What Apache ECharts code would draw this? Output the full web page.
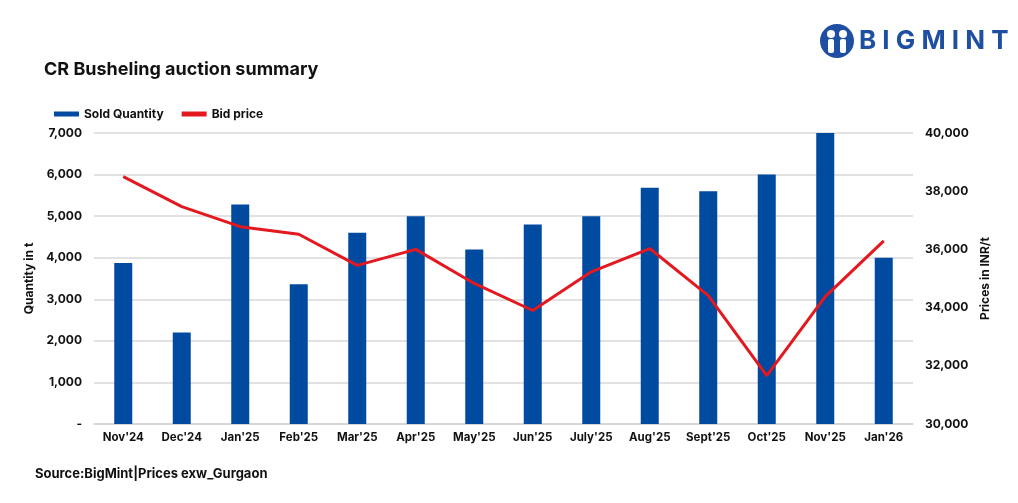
<!DOCTYPE html>
<html>
<head>
<meta charset="utf-8">
<script src="https://cdn.jsdelivr.net/npm/echarts@6/dist/echarts.min.js"></script>
<style>html,body{margin:0;padding:0;background:#fff}#c{width:1018px;height:503px}</style>
</head>
<body>
<div id="c"></div>
<script>
const categories = ["Nov'24","Dec'24","Jan'25","Feb'25","Mar'25","Apr'25","May'25","Jun'25","July'25","Aug'25","Sept'25","Oct'25","Nov'25","Jan'26"];
const soldQuantity = [3870, 2200, 5280, 3360, 4600, 5000, 4200, 4800, 5000, 5680, 5600, 6000, 7000, 4000];
const bidPrice = [38500, 37470, 36780, 36520, 35450, 36000, 34830, 33900, 35230, 36030, 34410, 31660, 34380, 36290];

const FONT = 'Inter, "Liberation Sans", Arial, sans-serif';
const chart = echarts.init(document.getElementById('c'));
chart.setOption({
  animation: false,
  textStyle: { fontFamily: FONT },
  title: {
    text: 'CR Busheling auction summary',
    left: 39, top: 56,
    textStyle: { fontFamily: FONT, fontSize: 18, fontWeight: 'bold', color: '#111' }
  },
  legend: {
    left: 49, top: 103,
    itemWidth: 25, itemHeight: 5, itemGap: 18,
    textStyle: { fontFamily: FONT, fontSize: 12, fontWeight: 'bold', color: '#111' },
    data: [
      { name: 'Sold Quantity', icon: 'rect' },
      { name: 'Bid price', icon: 'rect', itemStyle: { color: '#e3191f' } }
    ]
  },
  grid: { left: 94, right: 105, top: 133, bottom: 79 },
  xAxis: {
    type: 'category',
    data: categories,
    axisLine: { lineStyle: { color: '#d4d4d4', width: 1.5 } },
    axisTick: { show: false },
    axisLabel: { color: '#111', fontWeight: 'bold', fontSize: 11.5, margin: 8, interval: 0 }
  },
  yAxis: [
    {
      type: 'value', min: 0, max: 7000, interval: 1000,
      name: 'Quantity in t', nameLocation: 'middle', nameGap: 58, nameRotate: 90,
      nameTextStyle: { color: '#111', fontWeight: 'bold', fontSize: 12 },
      axisLabel: {
        color: '#111', fontWeight: 'bold', fontSize: 12, margin: 12,
        formatter: v => v === 0 ? '-' : v.toLocaleString('en-US')
      },
      splitLine: { lineStyle: { color: '#d9d9d9', width: 1.5 } },
      axisLine: { show: false }, axisTick: { show: false }
    },
    {
      type: 'value', min: 30000, max: 40000, interval: 2000,
      name: 'Prices in INR/t', nameLocation: 'middle', nameGap: 62, nameRotate: 90,
      nameTextStyle: { color: '#111', fontWeight: 'bold', fontSize: 12 },
      axisLabel: {
        color: '#111', fontWeight: 'bold', fontSize: 12, margin: 12,
        formatter: v => v.toLocaleString('en-US')
      },
      splitLine: { show: false },
      axisLine: { show: false }, axisTick: { show: false }
    }
  ],
  series: [
    {
      name: 'Sold Quantity', type: 'bar', data: soldQuantity,
      barWidth: 18, itemStyle: { color: '#004aa0' }
    },
    {
      name: 'Bid price', type: 'line', yAxisIndex: 1, data: bidPrice,
      symbol: 'none', lineStyle: { color: '#e3191f', width: 3 },
      itemStyle: { color: '#e3191f' }
    }
  ],
  graphic: [
    {
      type: 'group', left: 820, top: 24,
      children: [
        { type: 'circle', shape: { cx: 17, cy: 17, r: 17 }, style: { fill: '#1f4fa3' } },
        { type: 'circle', shape: { cx: 11, cy: 10, r: 4 }, style: { fill: '#fff' } },
        { type: 'circle', shape: { cx: 23, cy: 10, r: 4 }, style: { fill: '#fff' } },
        { type: 'rect', shape: { x: 8, y: 15, width: 6, height: 14, r: 2 }, style: { fill: '#fff' } },
        { type: 'rect', shape: { x: 20, y: 15, width: 6, height: 14, r: 2 }, style: { fill: '#fff' } },
        { type: 'rect', shape: { x: 15.5, y: 16, width: 3, height: 12 }, style: { fill: '#1f4fa3' } }
      ]
    },
    {
      type: 'text', left: 859, top: 28,
      style: {
        text: 'B I G M I N T', fill: '#1f4fa3',
        font: 'bold 26px ' + FONT
      }
    },
    {
      type: 'text', left: 35, top: 468,
      style: {
        text: 'Source:BigMint|Prices exw_Gurgaon', fill: '#111',
        font: 'bold 13px ' + FONT
      }
    }
  ]
});
</script>
</body>
</html>
